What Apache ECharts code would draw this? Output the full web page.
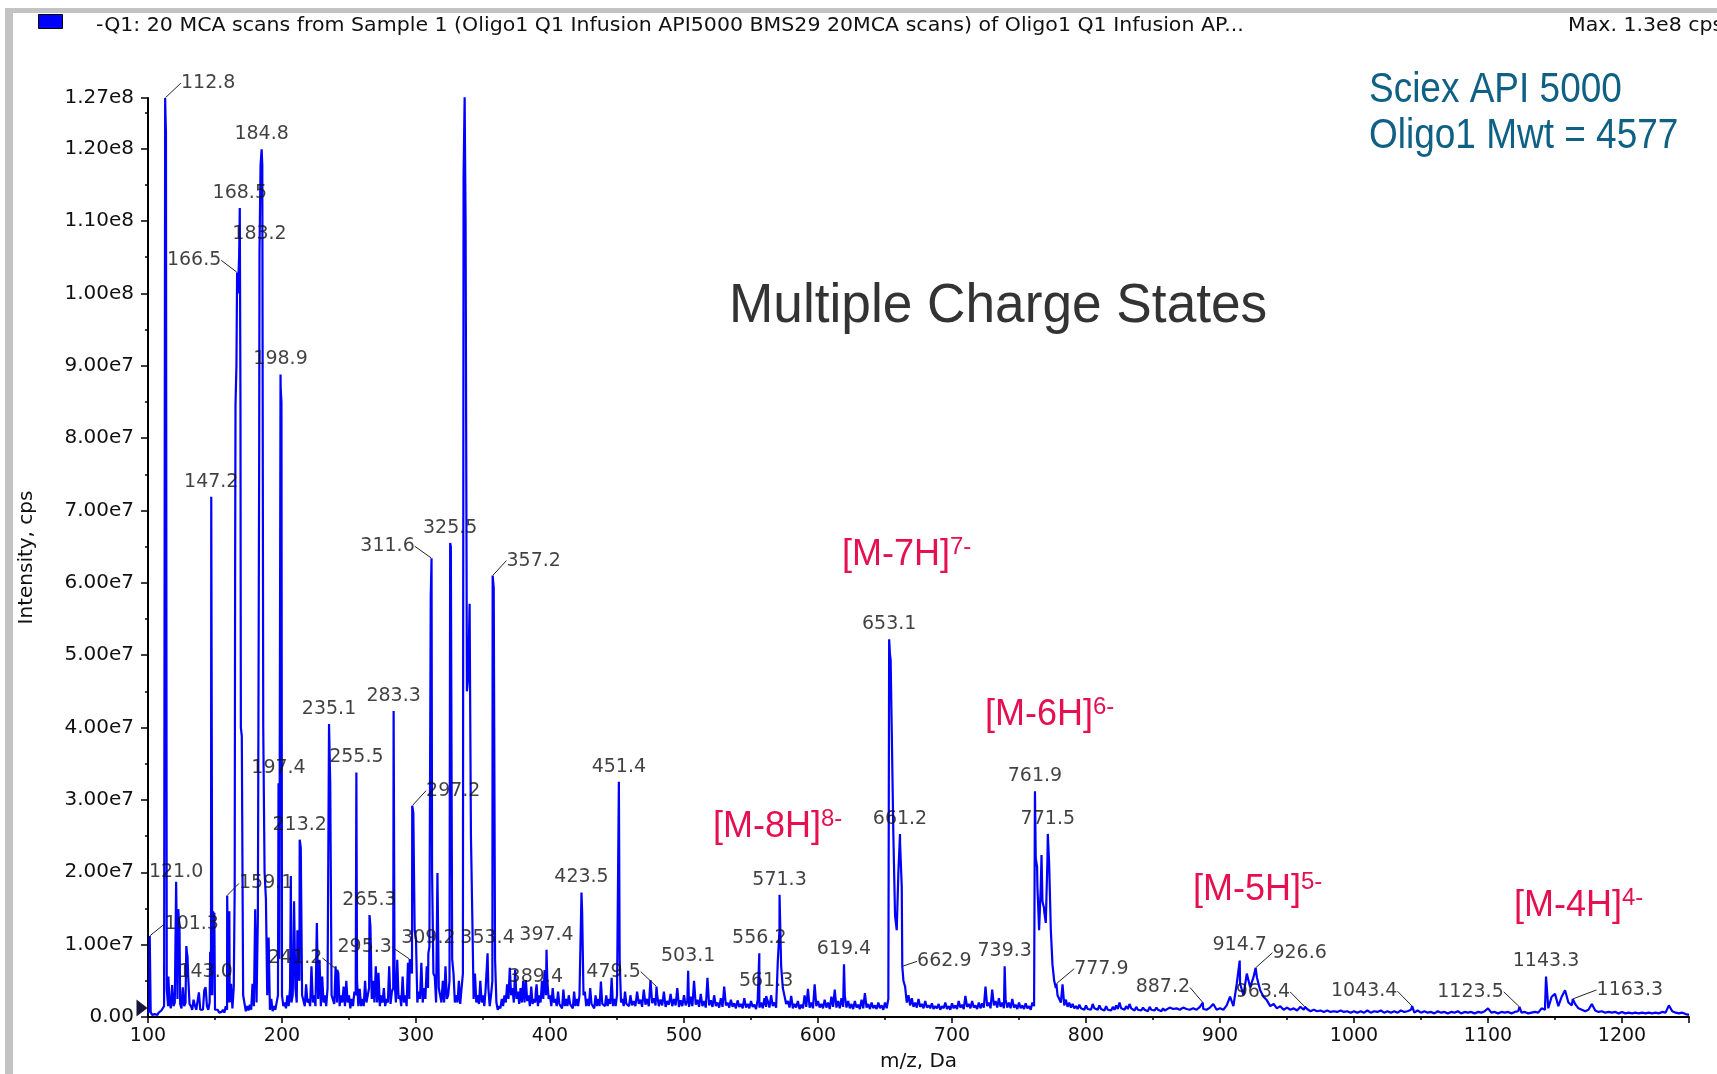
<!DOCTYPE html>
<html>
<head>
<meta charset="utf-8">
<title>Oligo1 Q1 MCA scan</title>
<script src="https://cdn.jsdelivr.net/npm/echarts/dist/echarts.min.js"></script>
<style>
  html, body { margin: 0; padding: 0; background: #ffffff; }
  #chart { width: 1717px; height: 1074px; }
</style>
</head>
<body>
<div id="chart"></div>
<script>
// ---- Spectrum data (intensity in units of 1e6 cps) ----

// Profile at even m/z, every 2 Da from 100 to 458
const profileEven100to460 = [
  0.5, 0.7, 0.4, 0.5, 0.6, 0.9, 1.5, 3.8, 2.2, 4.4,      // 100-118
  2.0, 2.5, 1.8, 4.1, 2.0, 5.6, 1.5, 2.4, 1.0, 3.4,      // 120-138
  1.2, 3.7, 1.5, 2.0, 3.0, 1.0, 1.0, 0.8, 1.0, 1.5,      // 140-158
  2.0, 4.6, 4.1, 90, 105, 38.8, 3.0, 1.5, 1.7, 4.6,      // 160-178
  14.9, 13.9, 117.7, 40, 16.3, 11, 2.5, 1.5, 2.0, 8.0,   // 180-198
  3.0, 2.0, 3.0, 4.0, 3.0, 4.0, 6.0, 23.4, 3.0, 4.5,     // 200-218
  2.5, 7.0, 3.0, 13.0, 7.9, 5.6, 3.0, 4.0, 32.2, 3.0,    // 220-238
  7.0, 6.1, 3.0, 4.2, 5.0, 3.0, 2.5, 3.5, 5.0, 3.9,      // 240-258
  2.5, 5.0, 3.0, 12.5, 5.0, 7.0, 6.1, 3.0, 4.0, 2.5,     // 260-278
  7.0, 3.5, 5.0, 7.9, 3.0, 5.6, 3.0, 7.5, 8.0, 28.2,     // 280-298
  10.7, 3.5, 7.5, 4.0, 7.0, 9.7, 20.0, 5.6, 19.9, 4.0,   // 300-318
  5.0, 7.0, 3.0, 65, 6.0, 3.0, 5.0, 4.0, 116.2, 45,      // 320-338
  57.1, 14.1, 6.0, 3.0, 5.0, 3.0, 4.0, 4.0, 3.0, 59.3,   // 340-358
  2.0, 1.5, 2.5, 3.0, 4.5, 6.8, 4.0, 6.5, 3.5, 4.0,      // 360-378
  5.0, 5.1, 3.0, 4.2, 2.5, 4.5, 3.0, 5.0, 6.5, 5.0,      // 380-398
  3.0, 4.0, 2.5, 3.5, 2.0, 3.8, 2.5, 3.0, 2.0, 3.5,      // 400-418
  2.5, 3.0, 14.4, 3.5, 2.5, 4.0, 2.0, 3.0, 2.5, 4.9,     // 420-438
  2.0, 3.0, 2.5, 5.4, 2.5, 3.0, 7.9, 2.5, 3.5, 2.0       // 440-458
];

// Profile at odd m/z, every 2 Da from 101 to 459
const profileOdd101to459 = [
  1.0, 0.3, 0.4, 0.3, 0.5, 0.8, 125, 1.5, 1.2, 1.5,      // 101-119
  18.7, 13.5, 1.2, 1.5, 9.0, 1.8, 1.0, 1.6, 0.8, 1.0,    // 121-139
  1.0, 4.1, 1.0, 3.0, 14.0, 0.8, 0.6, 0.7, 0.6, 1.0,     // 141-159
  2.0, 1.2, 60, 100, 85, 3.0, 0.8, 0.9, 1.0, 1.5,        // 161-179
  2.0, 80, 119, 20, 3.0, 1.0, 0.8, 1.0, 3.0, 87,         // 181-199
  1.5, 1.2, 1.5, 2.0, 16.0, 2.0, 5.0, 3.0, 1.5, 2.0,     // 201-219
  1.5, 2.0, 1.5, 2.5, 1.5, 2.0, 1.5, 4.0, 3.0, 1.8,      // 221-239
  2.0, 1.5, 2.0, 1.5, 2.0, 1.2, 1.5, 3.0, 1.5, 1.5,      // 241-259
  1.5, 2.0, 4.0, 2.5, 2.0, 2.0, 1.5, 2.0, 1.5, 2.0,      // 261-279
  1.8, 4.0, 2.0, 2.5, 1.5, 2.0, 1.5, 2.5, 6.0, 12.0,     // 281-299
  2.0, 2.5, 2.0, 2.5, 4.0, 58.1, 6.0, 2.0, 4.0, 2.0,     // 301-319
  2.0, 2.5, 5.0, 8.0, 2.0, 2.0, 1.8, 6.0, 110, 47,       // 321-339
  25, 2.5, 2.0, 1.8, 2.0, 1.5, 4.0, 1.5, 5.0, 8.0,       // 341-359
  1.0, 1.2, 1.5, 2.0, 2.5, 3.0, 2.0, 2.5, 1.8, 2.0,      // 361-379
  2.0, 2.2, 1.5, 1.8, 2.0, 1.5, 2.0, 2.5, 3.0, 2.5,      // 381-399
  1.5, 2.0, 1.5, 1.8, 1.2, 1.5, 1.5, 1.8, 1.2, 1.5,      // 401-419
  1.5, 3.0, 3.0, 1.5, 1.5, 1.8, 1.2, 1.5, 1.5, 1.8,      // 421-439
  1.5, 1.5, 1.8, 1.5, 1.5, 3.0, 2.0, 1.5, 1.8, 1.5       // 441-459
];

// Profile sampled every 2.5 Da, eight points per 20 Da row
const profile460to660 = [
  3.0, 2.2, 3.5, 2.4, 3.8, 2.5, 5.1, 2.6,   // 460
  3.0, 2.4, 3.5, 2.2, 3.2, 2.5, 4.0, 2.3,   // 480
  3.0, 2.2, 2.8, 5.0, 2.4, 3.2, 2.2, 5.4,   // 500
  2.3, 3.0, 2.0, 2.6, 4.2, 2.0, 2.4, 1.9,   // 520
  2.3, 1.8, 2.6, 1.8, 2.2, 1.7, 2.4, 2.0,   // 540
  2.6, 2.2, 3.0, 2.0, 7.7, 7.0, 4.2, 2.2,   // 560
  2.9, 1.8, 2.2, 1.7, 3.0, 3.9, 2.0, 4.5,   // 580
  2.2, 1.8, 2.4, 2.0, 2.8, 3.8, 2.2, 2.6,   // 600
  3.0, 2.2, 1.8, 2.2, 1.7, 2.4, 3.3, 1.8,   // 620
  2.0, 1.6, 2.0, 1.6, 2.0, 2.5, 40.0, 14.0  // 640
];
// Interleaved samples (offset 1.25 Da) for the same range
const profileMid461to659 = [
  1.6, 1.5, 1.8, 1.4, 1.7, 1.5, 1.9, 1.6,   // 461.25
  1.5, 1.6, 1.4, 1.7, 1.5, 1.6, 1.4, 1.5,   // 481.25
  1.6, 1.4, 1.5, 1.7, 1.4, 1.5, 1.3, 1.6,   // 501.25
  1.4, 1.5, 1.3, 1.4, 1.6, 1.3, 1.4, 1.2,   // 521.25
  1.4, 1.2, 1.3, 1.2, 1.4, 1.1, 1.3, 1.2,   // 541.25
  1.4, 1.3, 1.5, 1.3, 12.0, 4.0, 1.8, 1.3,  // 561.25
  1.2, 1.3, 1.1, 1.2, 1.4, 1.3, 1.2, 1.5,   // 581.25
  1.3, 1.2, 1.3, 1.1, 1.4, 1.3, 1.2, 1.4,   // 601.25
  1.3, 1.2, 1.1, 1.3, 1.1, 1.2, 1.3, 1.1,   // 621.25
  1.2, 1.1, 1.2, 1.0, 1.2, 50.0, 25.0, 12.0 // 641.25
];
const profile660to860 = [
  20.1, 18.0, 4.2, 3.0, 2.6, 2.0, 2.5, 1.8,     // 660
  2.2, 1.6, 1.9, 1.5, 1.8, 1.5, 2.0, 1.5,       // 680
  1.9, 1.6, 2.2, 1.7, 2.9, 1.8, 2.2, 1.6,       // 700
  2.0, 1.9, 4.2, 2.0, 3.8, 2.2, 2.6, 2.0,       // 720
  2.4, 2.0, 2.5, 1.7, 2.0, 1.6, 1.9, 1.5,       // 740
  2.0, 22.0, 12.0, 16.0, 13.0, 21.2, 7.2, 4.0,  // 760
  3.0, 4.5, 2.4, 2.0, 1.8, 1.5, 1.7, 1.4,       // 780
  1.6, 1.3, 1.8, 1.3, 1.6, 1.2, 1.5, 1.2,       // 800
  1.4, 1.6, 2.0, 1.3, 1.5, 1.8, 1.2, 1.4,       // 820
  1.1, 1.3, 1.0, 1.4, 1.1, 1.3, 1.0, 1.2        // 840
];
const profileMid661to859 = [
  24.0, 5.0, 2.0, 1.6, 1.4, 1.3, 1.4, 1.2,      // 661.25
  1.3, 1.2, 1.1, 1.2, 1.0, 1.2, 1.1, 1.0,       // 681.25
  1.2, 1.1, 1.3, 1.1, 1.4, 1.2, 1.3, 1.1,       // 701.25
  1.2, 1.3, 1.5, 1.2, 1.6, 1.3, 1.4, 1.2,       // 721.25
  1.3, 1.2, 1.3, 1.1, 1.2, 1.1, 1.2, 1.0,       // 741.25
  1.5, 18.0, 18.0, 15.0, 22.0, 12.0, 5.0, 3.0,  // 761.25
  2.0, 1.6, 1.4, 1.3, 1.2, 1.1, 1.2, 1.0,       // 781.25
  1.1, 1.0, 1.2, 1.0, 1.1, 0.9, 1.0, 0.9,       // 801.25
  1.0, 1.1, 1.2, 1.0, 1.1, 1.2, 0.9, 1.0,       // 821.25
  0.9, 1.0, 0.8, 1.0, 0.9, 1.0, 0.8, 0.9        // 841.25
];
const profile860to1060 = [
  1.0, 1.3, 1.1, 1.2, 1.0, 1.3, 1.1, 1.0,   // 860
  1.2, 1.0, 1.4, 1.1, 1.0, 1.3, 1.8, 1.0,   // 880
  1.2, 1.0, 1.6, 2.8, 1.5, 4.6, 4.6, 3.0,   // 900
  6.0, 4.1, 5.5, 5.5, 3.7, 2.8, 2.3, 1.5,   // 920
  1.8, 1.2, 1.5, 1.0, 1.3, 1.0, 1.2, 0.9,   // 940
  1.4, 1.0, 1.1, 0.8, 1.0, 0.8, 0.9, 0.7,   // 960
  0.9, 0.7, 0.8, 0.7, 0.9, 0.7, 0.8, 0.6,   // 980
  0.8, 0.6, 0.8, 0.6, 0.9, 0.6, 0.8, 0.7,   // 1000
  0.9, 0.6, 0.8, 0.6, 0.8, 0.6, 0.9, 0.7,   // 1020
  0.8, 1.0, 0.6, 0.9, 0.6, 0.8, 0.6, 0.7    // 1040
];
const profile1060to1250 = [
  0.5, 0.8, 0.6, 0.7, 0.5, 0.7, 0.6, 0.8,   // 1060
  0.5, 0.7, 0.6, 0.7, 0.5, 0.7, 0.6, 0.8,   // 1080
  1.2, 0.6, 0.7, 0.5, 0.7, 0.6, 0.7, 0.5,   // 1100
  0.7, 0.8, 0.6, 0.7, 0.5, 0.6, 0.7, 0.6,   // 1120
  1.2, 1.0, 1.2, 2.8, 3.2, 1.5, 2.8, 3.7,   // 1140
  2.0, 1.6, 1.8, 1.2, 1.0, 0.8, 1.0, 1.8,   // 1160
  0.9, 0.7, 0.8, 0.6, 0.7, 0.6, 0.7, 0.5,   // 1180
  0.7, 0.5, 0.6, 0.5, 0.6, 0.5, 0.6, 0.5,   // 1200
  0.6, 0.5, 0.6, 0.5, 0.7, 0.6, 1.6, 0.8,   // 1220
  0.6, 0.5, 0.6, 0.4, 0.3                   // 1240-1250
];

// Peak apexes between the sampled points [m/z, intensity]
const peakApexes = [
  [101.3, 11.2], [112.8, 127.0], [113.4, 122.2], [115.2, 5.6],
  [122.6, 14.9], [123.5, 12.9], [128.6, 9.8], [129.5, 8.3],
  [146.4, 9.0], [147.2, 71.9], [148.6, 14.6], [149.5, 14.4],
  [159.1, 16.8], [160.7, 14.6], [164.7, 17.8], [165.3, 84.6], [166.5, 102.9],
  [168.5, 111.8], [169.3, 40.0],
  [183.2, 105.6], [184.8, 119.9], [185.3, 117.7],
  [197.4, 32.3], [198.9, 88.8], [199.6, 84.9],
  [206.6, 19.5], [211.5, 12.0], [213.2, 24.5],
  [235.1, 40.5], [241.2, 6.5], [255.5, 33.8], [265.3, 14.1], [283.3, 42.3],
  [295.3, 8.0], [297.2, 29.2], [309.2, 8.8], [311.6, 63.4],
  [325.5, 65.5], [335.5, 116.2], [336.3, 127.1], [339.3, 50.0],
  [353.4, 8.8], [357.2, 61.0], [389.4, 3.5], [397.4, 9.3],
  [423.5, 17.2], [451.4, 32.5], [479.5, 4.2], [503.1, 6.4],
  [556.2, 8.8], [561.3, 2.9], [571.3, 16.9], [619.4, 7.3],
  [653.1, 52.2], [654.2, 49.4], [661.2, 25.3], [662.9, 7.0], [739.3, 7.0],
  [761.9, 31.2], [763.5, 20.7], [766.8, 22.4], [768.8, 14.6], [771.5, 25.3],
  [777.9, 4.6], [887.2, 2.0], [914.7, 7.8], [926.6, 6.8], [963.4, 1.4],
  [1043.4, 1.5], [1123.5, 1.4], [1143.3, 5.6], [1163.3, 2.5]
];

// Annotated peaks (m/z)
const labelledPeaks = [
  101.3, 112.8, 121.0, 143.0, 147.2, 159.1, 166.5, 168.5, 183.2, 184.8,
  197.4, 198.9, 213.2, 235.1, 241.2, 255.5, 265.3, 283.3, 295.3, 297.2,
  309.2, 311.6, 325.5, 336.3, 353.4, 357.2, 389.4, 397.4, 423.5, 451.4,
  479.5, 503.1, 556.2, 561.3, 571.3, 619.4, 653.1, 661.2, 662.9, 739.3,
  761.9, 771.5, 777.9, 887.2, 914.7, 926.6, 963.4, 1043.4, 1123.5, 1143.3,
  1163.3
];

// Charge-state annotations
const chargeStates = [
  { ion: '[M-8H]', charge: '8-' },
  { ion: '[M-7H]', charge: '7-' },
  { ion: '[M-6H]', charge: '6-' },
  { ion: '[M-5H]', charge: '5-' },
  { ion: '[M-4H]', charge: '4-' }
];

const yTicks = { min: 0, max: 127e6, step: 1e7 };
const xTicks = { min: 100, max: 1250, step: 100 };

// ---- Layout / style tables ----
// label offsets [dx, dy, leader line]
const labelNudge = {
  '112.8': [43, 0, 1], '166.5': [-43, 3, 1], '183.2': [0, -4, 0],
  '311.6': [-44, 3, 1], '357.2': [41, 0, 1], '297.2': [41, 0, 1],
  '159.1': [39, 3, 1], '101.3': [42, 3, 1], '121.0': [0, 5, 0],
  '241.2': [-42, 3, 1], '295.3': [-45, 3, 1], '479.5': [-43, 0, 1],
  '662.9': [42, 10, 1], '777.9': [45, 0, 1], '887.2': [-40, 0, 1],
  '926.6': [44, 0, 1], '963.4': [-42, 0, 1], '1043.4': [-48, 0, 1],
  '1123.5': [-49, 0, 1], '1163.3': [57, 6, 1]
};
const chargeStatePos = [[713, 827], [842, 555], [985, 715], [1193, 890], [1514, 906]];

const FONT = '"DejaVu Sans", sans-serif';
const BLUE = '#0000ff';
const RED = '#e4104f';

// ---- Build series data ----
function sampled(start, step, values) {
  return values.map((v, i) => [Math.round((start + i * step) * 100) / 100, v]);
}
const spectrum = [
  ...sampled(100, 2, profileEven100to460),
  ...sampled(101, 2, profileOdd101to459),
  ...sampled(460, 2.5, profile460to660),
  ...sampled(461.25, 2.5, profileMid461to659),
  ...sampled(660, 2.5, profile660to860),
  ...sampled(661.25, 2.5, profileMid661to859),
  ...sampled(860, 2.5, profile860to1060),
  ...sampled(1060, 2.5, profile1060to1250),
  ...peakApexes
].sort((a, b) => a[0] - b[0]);

const spectrumCps = spectrum.map(([mz, v]) => [mz, v * 1e6]);

const labelData = labelledPeaks.map(mz => {
  const point = spectrum.find(p => Math.abs(p[0] - mz) < 1e-6);
  const nudge = labelNudge[mz.toFixed(1)];
  return {
    value: [mz, point[1] * 1e6],
    labelLine: { show: !!(nudge && nudge[2]) }
  };
});

function sci(v) {
  if (v === 0) return '0.00';
  return v.toExponential(2).replace('e+', 'e');
}

const chart = echarts.init(document.getElementById('chart'), null, { renderer: 'canvas' });

const headerStyle = { font: '19px "DejaVu Sans", sans-serif', fill: '#111',
  align: 'left', verticalAlign: 'middle', textAlign: 'left', textVerticalAlign: 'middle' };

const graphicElements = [
  // window frame
  { type: 'rect', shape: { x: 5, y: 8, width: 1712, height: 5 }, style: { fill: '#c3c3c3' }, silent: true },
  { type: 'rect', shape: { x: 5, y: 8, width: 8, height: 1066 }, style: { fill: '#c3c3c3' }, silent: true },
  // scan header
  { type: 'text', x: 96, y: 26, scaleX: 1.08,
    style: Object.assign({ text: '-Q1: 20 MCA scans from Sample 1 (Oligo1 Q1 Infusion API5000 BMS29 20MCA scans) of Oligo1 Q1 Infusion AP...' }, headerStyle) },
  { type: 'text', x: 1568, y: 26, scaleX: 1.08,
    style: Object.assign({ text: 'Max. 1.3e8 cps' }, headerStyle) },
  // instrument note
  { type: 'text', x: 1369, y: 90, scaleX: 0.86,
    style: { text: 'Sciex API 5000', font: '43px "Liberation Sans", Arial, sans-serif', fill: '#0e6185',
      align: 'left', verticalAlign: 'middle', textAlign: 'left', textVerticalAlign: 'middle' } },
  { type: 'text', x: 1369, y: 136, scaleX: 0.86,
    style: { text: 'Oligo1 Mwt = 4577', font: '43px "Liberation Sans", Arial, sans-serif', fill: '#0e6185',
      align: 'left', verticalAlign: 'middle', textAlign: 'left', textVerticalAlign: 'middle' } },
  { type: 'text', x: 729, y: 307, scaleX: 0.95,
    style: { text: 'Multiple Charge States', font: '56px "Liberation Sans", Arial, sans-serif', fill: '#333333',
      align: 'left', verticalAlign: 'middle', textAlign: 'left', textVerticalAlign: 'middle' } }
];

chargeStates.forEach((c, i) => {
  graphicElements.push({
    type: 'text', x: chargeStatePos[i][0], y: chargeStatePos[i][1],
    style: {
      text: '{m|' + c.ion + '}{s|' + c.charge + '}',
      align: 'left', verticalAlign: 'middle', textAlign: 'left', textVerticalAlign: 'middle',
      rich: {
        m: { fontSize: 36, fontFamily: '"Liberation Sans", Arial, sans-serif', fill: RED, color: RED, lineHeight: 40 },
        s: { fontSize: 24, fontFamily: '"Liberation Sans", Arial, sans-serif', fill: RED, color: RED, verticalAlign: 'top', lineHeight: 25 }
      }
    }
  });
});

const option = {
  backgroundColor: '#ffffff',
  animation: false,
  legend: {
    left: 38, top: 14, padding: 0, itemWidth: 24, itemHeight: 14,
    data: [{ name: 'Q1 scan', icon: 'rect' }],
    formatter: () => '',
    itemStyle: { color: BLUE, borderColor: '#000', borderWidth: 1 },
    selectedMode: false
  },
  grid: { left: 148, right: 28, top: 98, bottom: 57, containLabel: false, outerBoundsMode: 'none' },
  xAxis: {
    type: 'value', min: xTicks.min, max: xTicks.max, interval: xTicks.step,
    name: 'm/z, Da', nameLocation: 'middle', nameGap: 35,
    nameTextStyle: { fontFamily: FONT, fontSize: 20, color: '#111' },
    axisLine: { show: true, onZero: false, lineStyle: { color: '#000', width: 2 } },
    axisTick: { show: true, length: 6, lineStyle: { color: '#000', width: 1.5 } },
    minorTick: { show: true, splitNumber: 2, length: 3, lineStyle: { color: '#000', width: 1.5 } },
    splitLine: { show: false }, minorSplitLine: { show: false },
    axisLabel: { margin: 10, showMaxLabel: false, formatter: v => String(v),
      fontFamily: FONT, fontSize: 19, color: '#111' }
  },
  yAxis: {
    type: 'value', min: yTicks.min, max: yTicks.max, interval: yTicks.step,
    name: 'Intensity, cps', nameLocation: 'middle', nameGap: 111,
    nameTextStyle: { fontFamily: FONT, fontSize: 20, color: '#111' },
    axisLine: { show: true, onZero: false, lineStyle: { color: '#000', width: 2 } },
    axisTick: { show: true, length: 7, lineStyle: { color: '#000', width: 1.5 } },
    minorTick: { show: true, splitNumber: 2, length: 3, lineStyle: { color: '#000', width: 1.5 } },
    splitLine: { show: false }, minorSplitLine: { show: false },
    axisLabel: { margin: 14, showMaxLabel: true, showMinLabel: true, formatter: sci,
      fontFamily: FONT, fontSize: 20, color: '#111' }
  },
  series: [
    {
      name: 'Q1 scan', type: 'line', data: spectrumCps,
      showSymbol: false, symbol: 'none', silent: true,
      lineStyle: { color: BLUE, width: 2.2 }, itemStyle: { color: BLUE },
      emphasis: { disabled: true },
      markPoint: {
        silent: true, animation: false,
        data: [{ coord: [xTicks.min, 0], symbol: 'triangle', symbolRotate: -90,
          symbolSize: [17, 11], symbolOffset: [-6, -9],
          itemStyle: { color: '#14143c' }, label: { show: false } }]
      },
      z: 2
    },
    {
      name: 'peak labels', type: 'scatter', data: labelData,
      symbol: 'circle', symbolSize: 1, silent: true, z: 5,
      itemStyle: { color: 'rgba(0,0,0,0)' },
      emphasis: { disabled: true },
      label: {
        show: true, position: 'top', distance: 5,
        formatter: p => p.value[0].toFixed(1),
        fontFamily: FONT, fontSize: 19, color: '#111'
      },
      labelLine: { show: false, lineStyle: { color: '#222', width: 1 } },
      labelLayout: p => {
        const n = labelNudge[labelledPeaks[p.dataIndex].toFixed(1)];
        return n ? { dx: n[0], dy: n[1] } : {};
      }
    }
  ],
  graphic: { elements: graphicElements }
};

chart.setOption(option);
</script>
</body>
</html>
